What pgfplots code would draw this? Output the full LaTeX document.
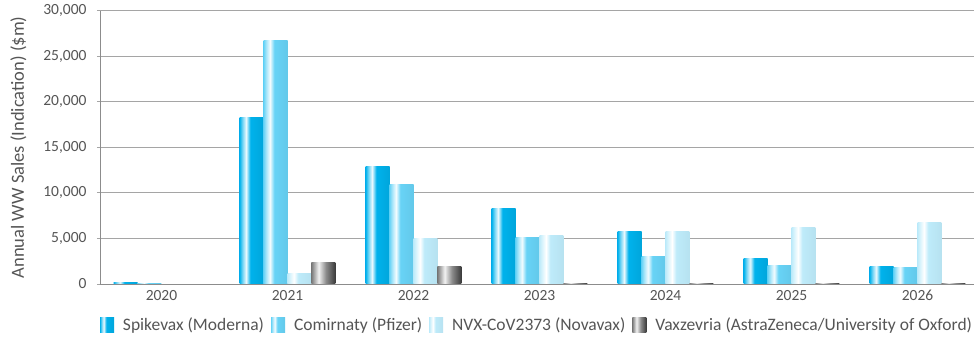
\documentclass[border=0pt]{standalone}
\usepackage{fontspec}
\setmainfont{Carlito}
\usepackage{pgfplots}
\pgfplotsset{compat=1.18}

\definecolor{txt}{RGB}{85,85,85}
\definecolor{gridc}{RGB}{165,165,165}
\definecolor{axisc}{RGB}{140,140,140}
\definecolor{spk}{RGB}{0,178,236}
\definecolor{cmr}{RGB}{104,211,246}
\definecolor{nvx}{RGB}{190,235,250}
\definecolor{vxA}{RGB}{122,122,122}
\definecolor{vxB}{RGB}{242,242,242}
\definecolor{vxC}{RGB}{140,140,140}
\definecolor{vxD}{RGB}{58,58,58}

% glossy cylinder-like fills: highlight about a quarter of the way across each bar
\pgfdeclarehorizontalshading{spkshade}{100bp}{color(0bp)=(spk); color(25bp)=(spk); color(31bp)=(spk!55!white); color(38.5bp)=(spk!8!white); color(47.5bp)=(spk); color(75bp)=(spk!93!black); color(100bp)=(spk!93!black)}
\pgfdeclarehorizontalshading{cmrshade}{100bp}{color(0bp)=(cmr); color(25bp)=(cmr); color(31bp)=(cmr!55!white); color(38.5bp)=(cmr!8!white); color(47.5bp)=(cmr); color(75bp)=(cmr!95!black); color(100bp)=(cmr!95!black)}
\pgfdeclarehorizontalshading{nvxshade}{100bp}{color(0bp)=(nvx); color(25bp)=(nvx); color(31bp)=(nvx!55!white); color(38.5bp)=(white); color(47.5bp)=(nvx); color(75bp)=(nvx!96!black); color(100bp)=(nvx!96!black)}
\pgfdeclarehorizontalshading{vxshade}{100bp}{color(0bp)=(vxA); color(25bp)=(vxA); color(40bp)=(vxB); color(55bp)=(vxC); color(75bp)=(vxD); color(100bp)=(vxD)}

% one bar per \addplot so that every bar gets its own shading
\pgfplotsset{
  barbase/.style={ybar, bar width=23.94bp, draw=none, shade},
  spkbar/.style={barbase, bar shift=-35.91bp, shading=spkshade},
  cmrbar/.style={barbase, bar shift=-11.97bp, shading=cmrshade},
  nvxbar/.style={barbase, bar shift=11.97bp, shading=nvxshade},
  vxbar/.style={barbase, bar shift=35.91bp, shading=vxshade},
}

\begin{document}
\begin{tikzpicture}
\useasboundingbox (-100bp,-54bp) rectangle (874bp,284bp);
\begin{axis}[
  scale only axis,
  width=874bp, height=273.3bp,
  xmin=-0.488, xmax=6.448,
  ymin=0, ymax=30000,
  axis x line*=bottom, axis y line*=left,
  axis line style={draw=axisc, line width=0.8bp},
  x axis line style={-}, y axis line style={-},
  xtick={0,1,2,3,4,5,6},
  xticklabels={2020,2021,2022,2023,2024,2025,2026},
  xtick style={draw=none},
  ytick={0,5000,10000,15000,20000,25000,30000},
  ytick style={draw=gridc, line width=0.8bp},
  tick align=outside, major tick length=3bp,
  ymajorgrids, major grid style={draw=gridc, line width=0.9bp},
  scaled y ticks=false,
  /pgf/number format/assume math mode=true,
  yticklabel style={/pgf/number format/1000 sep={,}, font=\fontsize{15.5bp}{18bp}\selectfont, text=txt, xshift=-7bp},
  xticklabel style={font=\fontsize{15.5bp}{18bp}\selectfont, text=txt},
  ylabel={Annual WW Sales (Indication) (\$m)},
  ylabel style={at={(axis description cs:-0.0933,0.5)}, anchor=center,
    font=\fontsize{18.5bp}{21bp}\selectfont, text=txt},
  every axis plot post/.append style={
    legend image code/.code={\path[##1] (0bp,-7.5bp) rectangle (14bp,7.5bp); \path (21bp,0bp);}},
  legend columns=4,
  legend style={at={(0.5,-0.150)}, anchor=center, draw=none, fill=none,
    font=\fontsize{17.5bp}{20bp}\selectfont, text=txt,
    /tikz/every even column/.append style={column sep=5bp}},
  legend cell align=left,
]
% legend carriers: 2021 bars of each series
\addplot[spkbar] coordinates {(1,18300)};
\addplot[cmrbar] coordinates {(1,26750)};
\addplot[nvxbar] coordinates {(1,1100)};
\addplot[vxbar]  coordinates {(1,2400)};
\legend{Spikevax (Moderna), Comirnaty (Pfizer), NVX-CoV2373 (Novavax), Vaxzevria (AstraZeneca/University of Oxford)}
% Spikevax (Moderna)
\addplot[spkbar, forget plot] coordinates {(0,200)};
\addplot[spkbar, forget plot] coordinates {(2,12900)};
\addplot[spkbar, forget plot] coordinates {(3,8250)};
\addplot[spkbar, forget plot] coordinates {(4,5800)};
\addplot[spkbar, forget plot] coordinates {(5,2800)};
\addplot[spkbar, forget plot] coordinates {(6,1900)};
% Comirnaty (Pfizer)
\addplot[cmrbar, forget plot] coordinates {(0,100)};
\addplot[cmrbar, forget plot] coordinates {(2,10900)};
\addplot[cmrbar, forget plot] coordinates {(3,5050)};
\addplot[cmrbar, forget plot] coordinates {(4,3000)};
\addplot[cmrbar, forget plot] coordinates {(5,2000)};
\addplot[cmrbar, forget plot] coordinates {(6,1800)};
% NVX-CoV2373 (Novavax)
\addplot[nvxbar, forget plot] coordinates {(2,4950)};
\addplot[nvxbar, forget plot] coordinates {(3,5350)};
\addplot[nvxbar, forget plot] coordinates {(4,5800)};
\addplot[nvxbar, forget plot] coordinates {(5,6250)};
\addplot[nvxbar, forget plot] coordinates {(6,6800)};
% Vaxzevria (AstraZeneca/University of Oxford)
\addplot[vxbar, forget plot] coordinates {(2,1900)};
\addplot[vxbar, forget plot] coordinates {(3,100)};
\addplot[vxbar, forget plot] coordinates {(4,100)};
\addplot[vxbar, forget plot] coordinates {(5,100)};
\addplot[vxbar, forget plot] coordinates {(6,100)};
\end{axis}
\end{tikzpicture}
\end{document}
